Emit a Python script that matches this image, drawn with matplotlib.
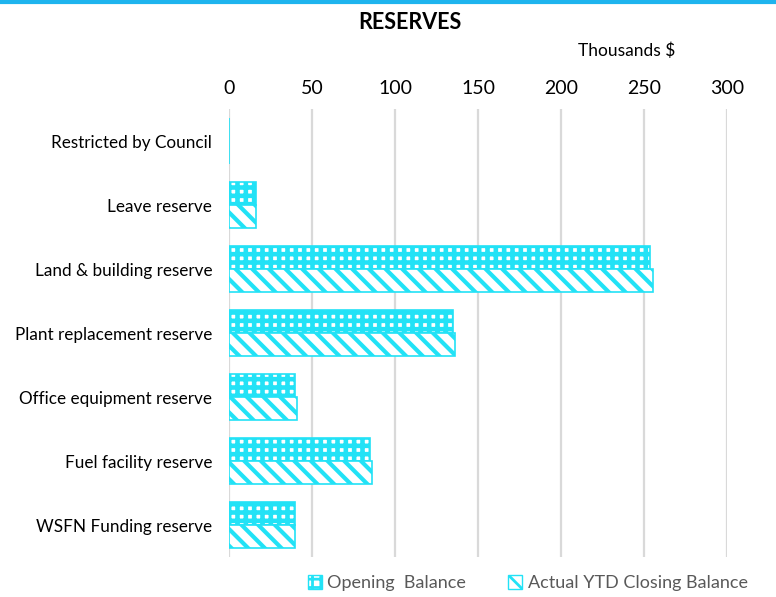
import numpy as np
import matplotlib
matplotlib.use("Agg")
import matplotlib.pyplot as plt
from matplotlib.patches import Patch

plt.rcParams['font.family'] = ['Lato', 'DejaVu Sans']
plt.rcParams['hatch.linewidth'] = 3.5

categories = ["Restricted by Council", "Leave reserve", "Land & building reserve",
              "Plant replacement reserve", "Office equipment reserve",
              "Fuel facility reserve", "WSFN Funding reserve"]
opening = [0, 16.3, 253.3, 135.2, 40.0, 84.9, 40.0]
closing = [0, 16.5, 255.6, 136.2, 40.8, 85.9, 40.0]
xticks = [0, 50, 100, 150, 200, 250, 300]

cyan = '#22E2F6'


def set_hlw(artists, w):
    for a in artists:
        if hasattr(a, 'set_hatch_linewidth'):
            a.set_hatch_linewidth(w)


fig = plt.figure(figsize=(7.76, 5.97), dpi=100)
ax = fig.add_axes([0.295, 0.067, 0.642, 0.75])

y = np.arange(len(categories))
h = 0.36

# opening: cyan grid leaving small white dots
b1 = ax.barh(y - h/2, opening, height=h, color='white', edgecolor=cyan, hatch='++', lw=1.2, zorder=3)
set_hlw(b1, 3.3)
# closing: white with cyan diagonal stripes
b2 = ax.barh(y + h/2, closing, height=h, color='white', edgecolor=cyan, hatch='\\\\', lw=1.2, zorder=3)
set_hlw(b2, 3.0)

ax.set_ylim(len(categories) - 0.5, -0.5)
ax.set_yticks(y)
ax.set_yticklabels(categories, fontsize=12.3)
ax.set_xlim(0, 300)
ax.set_xticks(xticks)
ax.xaxis.tick_top()
ax.tick_params(axis='x', labelsize=14, length=0, pad=9)
ax.tick_params(axis='y', length=0, pad=12)
ax.grid(axis='x', color='#d9d9d9', lw=1.6, zorder=0)
for s in ax.spines.values():
    s.set_visible(False)

fig.text(0.528, 0.962, "RESERVES", ha='center', va='center', fontsize=15.5, fontweight='bold')
fig.text(0.807, 0.915, "Thousands $", ha='center', va='center', fontsize=12.5)

# blue line at the top
fig.add_artist(plt.Line2D([0, 1], [0.997, 0.997], color='#1EB4EE', lw=3))

handles = [Patch(facecolor='white', edgecolor=cyan, hatch='++', label='Opening  Balance'),
           Patch(facecolor='white', edgecolor=cyan, hatch='\\\\', label='Actual YTD Closing Balance')]
leg = fig.legend(handles=handles, loc='center', bbox_to_anchor=(0.68, 0.023), ncol=2,
                 frameon=False, fontsize=13, handlelength=0.8, handleheight=0.8,
                 handletextpad=0.3, columnspacing=2.3)
for t in leg.get_texts():
    t.set_color('#595959')
set_hlw(leg.legend_handles, 2.0)

fig.savefig("out.png", dpi=100)
